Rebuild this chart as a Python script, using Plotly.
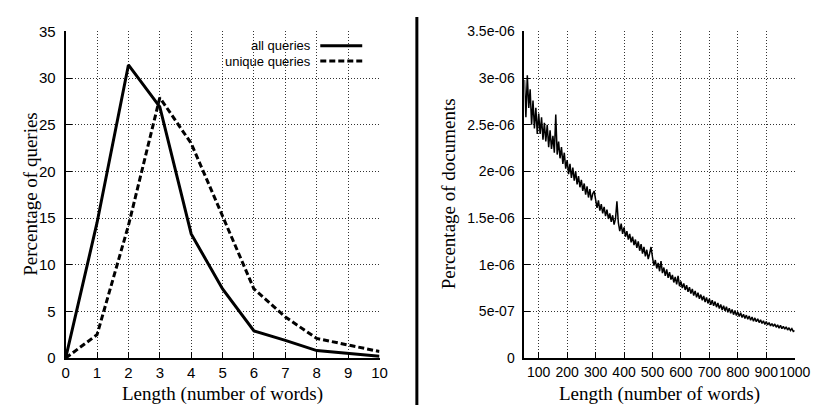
import plotly.graph_objects as go

# ---- left panel data ----
query_len = list(range(0, 11))
all_queries = [0, 14.5, 31.4, 26.9, 13.3, 7.4, 2.9, 1.9, 0.8, 0.5, 0.2]
unique_queries = [0, 2.5, 14.2, 27.9, 23.0, 15.3, 7.4, 4.4, 2.1, 1.4, 0.7]

left_xticks = list(range(0, 11))
left_yticks = [0, 5, 10, 15, 20, 25, 30, 35]

# ---- right panel data (values in units of 1e-6), one value every 5 words ----
doc_len = list(range(50, 1001, 5))
doc_pct_e6 = [
    2.98, 2.58, 3.03, 2.68, 2.88, 2.50, 2.76, 2.46, 2.68, 2.40,
    2.62, 2.40, 2.58, 2.34, 2.52, 2.32, 2.50, 2.26, 2.44, 2.24,
    2.38, 2.20, 2.61, 2.18, 2.32, 2.14, 2.26, 2.08, 2.20, 2.03,
    2.12, 1.97, 2.08, 1.93, 2.04, 1.90, 2.00, 1.86, 1.95, 1.83,
    1.91, 1.79, 1.87, 1.75, 1.84, 1.72, 1.81, 1.69, 1.76, 1.79,
    1.70, 1.61, 1.69, 1.58, 1.65, 1.55, 1.62, 1.52, 1.59, 1.49,
    1.55, 1.46, 1.53, 1.43, 1.49, 1.68, 1.45, 1.36, 1.44, 1.33,
    1.40, 1.30, 1.36, 1.27, 1.33, 1.24, 1.30, 1.21, 1.27, 1.18,
    1.25, 1.15, 1.22, 1.12, 1.19, 1.09, 1.16, 1.06, 1.12, 1.19,
    1.08, 0.99, 1.05, 0.96, 1.02, 0.93, 1.04, 0.91, 0.97, 0.88,
    0.95, 0.86, 0.92, 0.84, 0.89, 0.81, 0.87, 0.79, 0.88, 0.77,
    0.82, 0.75, 0.80, 0.73, 0.78, 0.71, 0.76, 0.69, 0.74, 0.67,
    0.72, 0.65, 0.70, 0.635, 0.68, 0.62, 0.665, 0.60, 0.65, 0.585,
    0.635, 0.57, 0.62, 0.56, 0.605, 0.545, 0.59, 0.53, 0.575, 0.515,
    0.56, 0.505, 0.55, 0.49, 0.535, 0.48, 0.52, 0.465, 0.51, 0.455,
    0.495, 0.445, 0.485, 0.435, 0.47, 0.425, 0.46, 0.415, 0.45, 0.405,
    0.44, 0.395, 0.43, 0.39, 0.42, 0.38, 0.41, 0.37, 0.40, 0.36,
    0.39, 0.355, 0.38, 0.345, 0.37, 0.34, 0.365, 0.33, 0.355, 0.32,
    0.35, 0.315, 0.34, 0.31, 0.335, 0.30, 0.325, 0.295, 0.315, 0.285,
    0.295,
]
doc_pct = [v * 1e-6 for v in doc_pct_e6]

right_xticks = [100, 200, 300, 400, 500, 600, 700, 800, 900, 1000]
right_yticks = [0, 0.5e-6, 1e-6, 1.5e-6, 2e-6, 2.5e-6, 3e-6, 3.5e-6]
right_yticklabels = ["0", "5e-07", "1e-06", "1.5e-06", "2e-06", "2.5e-06", "3e-06", "3.5e-06"]

W, H = 819, 405
def px(x):
    return x / W
def py(y):
    return 1 - y / H

SANS = "Liberation Sans, Arial, sans-serif"
SERIF = "Liberation Serif, Times New Roman, serif"
LEFT_TICK_FONT = dict(family=SANS, size=15, color="black")
RIGHT_TICK_FONT = dict(family=SANS, size=14, color="black")
LEGEND_FONT = dict(family=SANS, size=13, color="black")
TITLE_FONT = dict(family=SERIF, size=19, color="black")

fig = go.Figure()

fig.add_trace(go.Scatter(x=query_len, y=all_queries, mode="lines",
                         line=dict(color="black", width=3), xaxis="x", yaxis="y",
                         showlegend=False))
fig.add_trace(go.Scatter(x=query_len, y=unique_queries, mode="lines",
                         line=dict(color="black", width=3, dash="6px,3px"), xaxis="x", yaxis="y",
                         showlegend=False))
fig.add_trace(go.Scatter(x=doc_len, y=doc_pct, mode="lines",
                         line=dict(color="black", width=1.5), xaxis="x2", yaxis="y2",
                         showlegend=False))

common_axis = dict(
    showline=True, linecolor="black", linewidth=2, mirror=False,
    ticks="inside", ticklen=6, tickwidth=1, tickcolor="black",
    showgrid=True, gridcolor="#333", gridwidth=1, griddash="1px,2px",
    zeroline=False, tickangle=0,
)

ydom = [py(356), py(15)]
fig.update_layout(
    width=W, height=H,
    margin=dict(l=0, r=0, t=0, b=0),
    paper_bgcolor="white", plot_bgcolor="white",
    xaxis=dict(domain=[px(55), px(376.7)], range=[0, 10], tickvals=left_xticks,
               anchor="y", tickfont=LEFT_TICK_FONT, ticklabelstandoff=0, **common_axis),
    yaxis=dict(domain=ydom, range=[0, 35], tickvals=left_yticks,
               anchor="x", tickfont=LEFT_TICK_FONT, ticklabelstandoff=5, **common_axis),
    xaxis2=dict(domain=[px(525.3), px(802.3)], range=[50, 1000], tickvals=right_xticks,
                anchor="y2", tickfont=RIGHT_TICK_FONT, ticklabelstandoff=0, **common_axis),
    yaxis2=dict(domain=ydom, range=[0, 3.5e-6], tickvals=right_yticks,
                ticktext=right_yticklabels, anchor="x2", tickfont=RIGHT_TICK_FONT,
                ticklabelstandoff=5, **common_axis),
)

annotations = [
    dict(text="Length (number of words)", x=px(216), y=py(393), xref="paper", yref="paper",
         showarrow=False, font=TITLE_FONT, xanchor="center", yanchor="middle", borderpad=0),
    dict(text="Percentage of queries", x=px(19), y=py(185), xref="paper", yref="paper",
         showarrow=False, font=TITLE_FONT, textangle=-90, xanchor="center", yanchor="middle"),
    dict(text="Length (number of words)", x=px(664), y=py(393), xref="paper", yref="paper",
         showarrow=False, font=TITLE_FONT, xanchor="center", yanchor="middle", borderpad=0),
    dict(text="Percentage of documents", x=px(447), y=py(185), xref="paper", yref="paper",
         showarrow=False, font=TITLE_FONT, textangle=-90, xanchor="center", yanchor="middle"),
    dict(text="all queries", x=px(307), y=py(30), xref="paper", yref="paper",
         showarrow=False, font=LEGEND_FONT, xanchor="right", yanchor="middle", borderpad=0),
    dict(text="unique queries", x=px(307), y=py(46), xref="paper", yref="paper",
         showarrow=False, font=LEGEND_FONT, xanchor="right", yanchor="middle", borderpad=0),
]
fig.update_layout(annotations=annotations)

shapes = [
    dict(type="line", xref="paper", yref="paper", x0=px(316), x1=px(359), y0=py(30), y1=py(30),
         line=dict(color="black", width=3)),
    dict(type="line", xref="paper", yref="paper", x0=px(316), x1=px(359), y0=py(46), y1=py(46),
         line=dict(color="black", width=3, dash="6px,3px")),
    dict(type="line", xref="paper", yref="paper", x0=px(415), x1=px(415), y0=0, y1=1,
         line=dict(color="black", width=3)),
]
fig.update_layout(shapes=shapes)

fig.write_html("out.html")
